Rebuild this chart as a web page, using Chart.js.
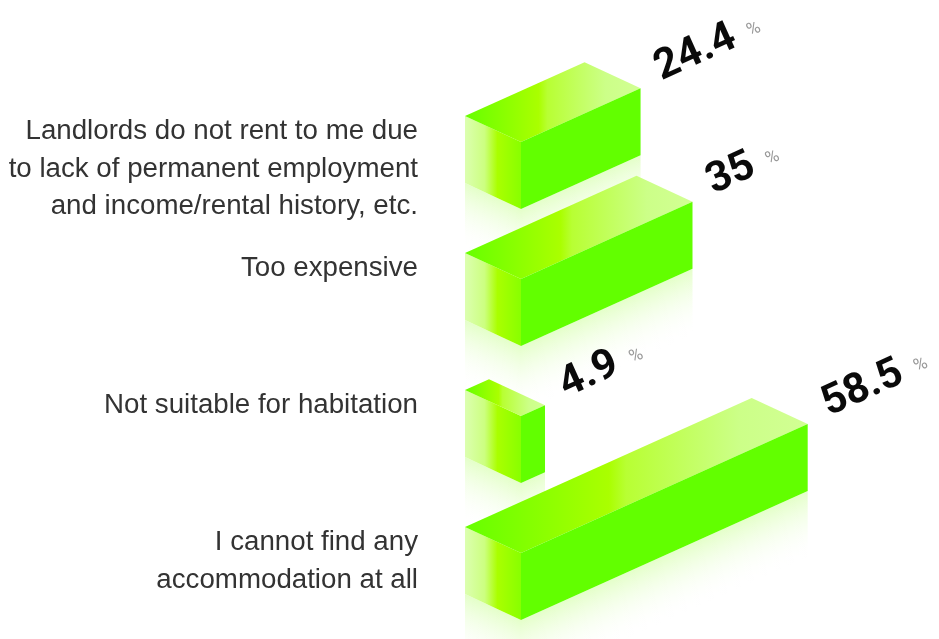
<!DOCTYPE html>
<html>
<head>
<meta charset="utf-8">
<title>Housing barriers</title>
<script src="https://cdn.jsdelivr.net/npm/chart.js@4"></script>
<style>
  html, body { margin: 0; padding: 0; background: #fff; overflow: hidden; }
  canvas { display: block; }
</style>
</head>
<body>
<canvas id="myChart" width="939" height="639"></canvas>
<script>
// Blank lines keep every label top aligned, as they are in the picture
const categories = [
    ['Landlords do not rent to me due', 'to lack of permanent employment', 'and income/rental history, etc.'],
    ['Too expensive', '', ''],
    ['Not suitable for habitation', '', ''],
    ['I cannot find any', 'accommodation at all', '']
];
const values = [24.4, 35, 4.9, 58.5];
const valueLabels = ['24.4', '35', '4.9', '58.5'];
const unit = '%';

// Sizes of the 3D blocks, in pixels
const DEPTH_X = 56, DEPTH_Y = 26, BLOCK_H = 67, SKEW = 0.45, FADE_H = 66, TOP_OFFSET = 27;

function linear(ctx, x0, x1, stops) {
    const g = ctx.createLinearGradient(x0, 0, x1, 0);
    stops.forEach(s => g.addColorStop(s[0], s[1]));
    return g;
}

function poly(ctx, pts, fill) {
    ctx.beginPath();
    pts.forEach((p, i) => i ? ctx.lineTo(p[0], p[1]) : ctx.moveTo(p[0], p[1]));
    ctx.closePath();
    ctx.fillStyle = fill;
    ctx.fill();
}

// Fading reflection under one bottom edge of a block
function reflection(ctx, x, y, w, slope, colour) {
    const g = ctx.createLinearGradient(0, 0, 0, FADE_H);
    g.addColorStop(0, colour);
    g.addColorStop(1, 'rgba(255,255,255,0)');
    ctx.save();
    ctx.transform(1, slope, 0, 1, x, y);
    ctx.fillStyle = g;
    ctx.fillRect(0, 0, w, FADE_H);
    ctx.restore();
}

const blocksPlugin = {
    id: 'blocks',
    afterDatasetsDraw(chart) {
        const ctx = chart.ctx;
        const meta = chart.getDatasetMeta(0);
        meta.data.forEach((bar, i) => {
            const front = bar.base;      // x of value 0
            const end = bar.x;           // x of the value
            const top = bar.y - TOP_OFFSET;
            const rise = (end - front) * SKEW;
            const left = front - DEPTH_X;

            reflection(ctx, left, top - DEPTH_Y + BLOCK_H, DEPTH_X, DEPTH_Y / DEPTH_X, 'rgba(225,255,195,0.9)');
            reflection(ctx, front, top + BLOCK_H, end - front, -SKEW, 'rgba(225,255,195,0.9)');

            // end cap
            poly(ctx, [[left, top - DEPTH_Y], [front, top], [front, top + BLOCK_H], [left, top - DEPTH_Y + BLOCK_H]],
                linear(ctx, left, front, [[0, '#dcffb0'], [0.35, '#ccff80'], [0.58, '#aaff00'], [1, '#88ff00']]));
            // top
            poly(ctx, [[left, top - DEPTH_Y], [end - DEPTH_X, top - DEPTH_Y - rise], [end, top - rise], [front, top]],
                linear(ctx, left, end, [[0, '#66ff00'], [0.42, '#aaff00'], [0.47, '#b8ff33'], [0.8, '#ccff88'], [1, '#d2ff94']]));
            // long side
            poly(ctx, [[front, top], [end, top - rise], [end, top - rise + BLOCK_H], [front, top + BLOCK_H]], '#62ff00');

            // value and unit, rotated along the block
            ctx.save();
            ctx.translate(end + 21, top - rise - 8);
            ctx.rotate(-Math.atan(SKEW));
            ctx.textBaseline = 'alphabetic';
            ctx.textAlign = 'left';
            ctx.font = 'bold 42px Roboto';
            ctx.fillStyle = '#0a0a0a';
            ctx.fillText(valueLabels[i], 0, 0);
            const w = ctx.measureText(valueLabels[i]).width;
            ctx.font = '18px Roboto';
            ctx.fillStyle = '#999';
            ctx.fillText(unit, w + 14, -4);
            ctx.restore();
        });
    }
};

new Chart(document.getElementById('myChart').getContext('2d'), {
    type: 'bar',
    data: {
        labels: categories,
        datasets: [{
            data: values,
            backgroundColor: 'rgba(0,0,0,0)',
            borderWidth: 0
        }]
    },
    options: {
        indexAxis: 'y',
        responsive: false,
        animation: false,
        layout: { padding: { top: 169, bottom: 59, left: 0, right: 0 } },
        plugins: { legend: { display: false }, tooltip: { enabled: false } },
        scales: {
            x: { display: false, min: 0, max: 85.3 },
            y: {
                offset: false,
                grid: { display: false, drawTicks: false },
                border: { display: false },
                afterFit(scale) {
                    scale.width = 521;
                    scale.paddingTop = 0;
                    scale.paddingBottom = 0;
                },
                ticks: {
                    autoSkip: false,
                    padding: 103,
                    color: '#333',
                    font: { family: '"Liberation Sans"', size: 27.7, lineHeight: 1.35 }
                }
            }
        }
    },
    plugins: [blocksPlugin]
});
</script>
</body>
</html>
